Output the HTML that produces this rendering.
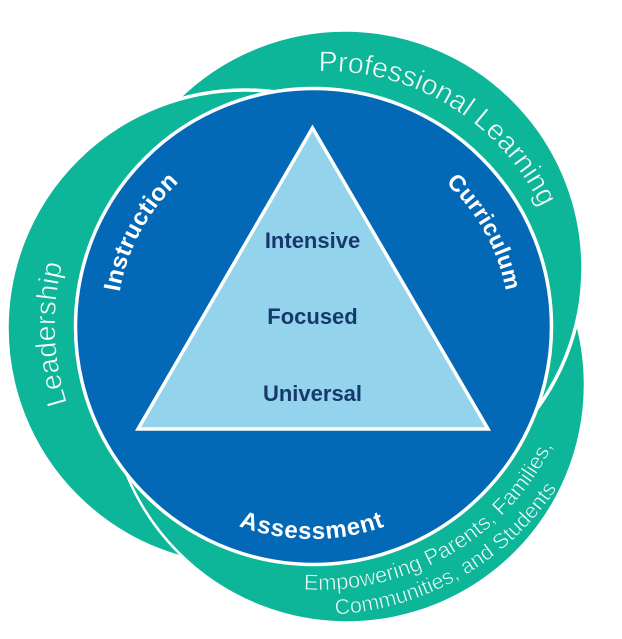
<!DOCTYPE html>
<html lang="en">
<head>
<meta charset="utf-8">
<title>Diagram</title>
<style>
html,body{margin:0;padding:0;background:#fff;}
svg{display:block;}
text{font-family:"Liberation Sans",sans-serif;}
.b{font-weight:700;fill:#fff;font-size:24px;letter-spacing:.3px;}
.l{font-weight:400;fill:#f2fbf9;stroke:#0db599;stroke-width:.55px;}
.d{font-weight:700;fill:#17386d;font-size:22px;text-anchor:middle;}
</style>
</head>
<body>
<svg width="622" height="639" viewBox="0 0 622 639" xmlns="http://www.w3.org/2000/svg">
<defs>
<path id="pPL" d="M285.5 74.6A239 239 0 0 1 553.1 238.5" fill="none"/>
<path id="pCu" d="M423.9 165.8A195 195 0 0 1 508.6 311.9" fill="none"/>
<path id="pIn" d="M117.1 314.6A195 195 0 0 1 196.7 167.6" fill="none"/>
<path id="pAs" d="M211.6 514A214 214 0 0 0 412.4 514" fill="none"/>
<path id="pLe" d="M79.1 433.6A257 257 0 0 1 72.1 232.9" fill="none"/>
<path id="pE1" d="M274.9 586A260 260 0 0 0 564.3 418.9" fill="none"/>
<path id="pE2" d="M295.2 613.9A285 285 0 0 0 578.3 450.4" fill="none"/>
<clipPath id="cl"><rect x="100" y="440" width="260" height="199"/></clipPath>
</defs>
<rect width="622" height="639" fill="#fff"/>
<circle cx="347" cy="384.5" r="236.75" fill="#0db599"/>
<circle cx="345" cy="268" r="238" fill="#0db599" stroke="#fff" stroke-width="3.5"/>
<circle cx="245" cy="328" r="238" fill="#0db599" stroke="#fff" stroke-width="3.5"/>
<circle cx="347" cy="384.5" r="238" fill="#0db599" stroke="#fff" stroke-width="2.5" clip-path="url(#cl)"/>
<circle cx="313.5" cy="326.5" r="238" fill="#0369b7" stroke="#fff" stroke-width="3.5"/>
<polygon points="312.500,128 138,429 488,429" fill="#93d4ec" stroke="#fff" stroke-width="3.500"/>
<text class="d" x="312.500" y="248">Intensive</text>
<text class="d" x="312.500" y="324">Focused</text>
<text class="d" x="312.500" y="401">Universal</text>
<text class="l" font-size="28.5"><textPath href="#pPL" startOffset="50%" text-anchor="middle">Professional Learning</textPath></text>
<text class="l" font-size="28.5"><textPath href="#pLe" startOffset="50%" text-anchor="middle">Leadership</textPath></text>
<text class="l" font-size="22"><textPath href="#pE1" startOffset="50%" text-anchor="middle">Empowering Parents, Families,</textPath></text>
<text class="l" font-size="21.5"><textPath href="#pE2" startOffset="49.5%" text-anchor="middle">Communities, and Students</textPath></text>
<text class="b" style="font-size:23px"><textPath href="#pCu" startOffset="52%" text-anchor="middle">Curriculum</textPath></text>
<text class="b"><textPath href="#pIn" startOffset="50%" text-anchor="middle">Instruction</textPath></text>
<text class="b" style="letter-spacing:.8px"><textPath href="#pAs" startOffset="50%" text-anchor="middle">Assessment</textPath></text>
</svg>
</body>
</html>
